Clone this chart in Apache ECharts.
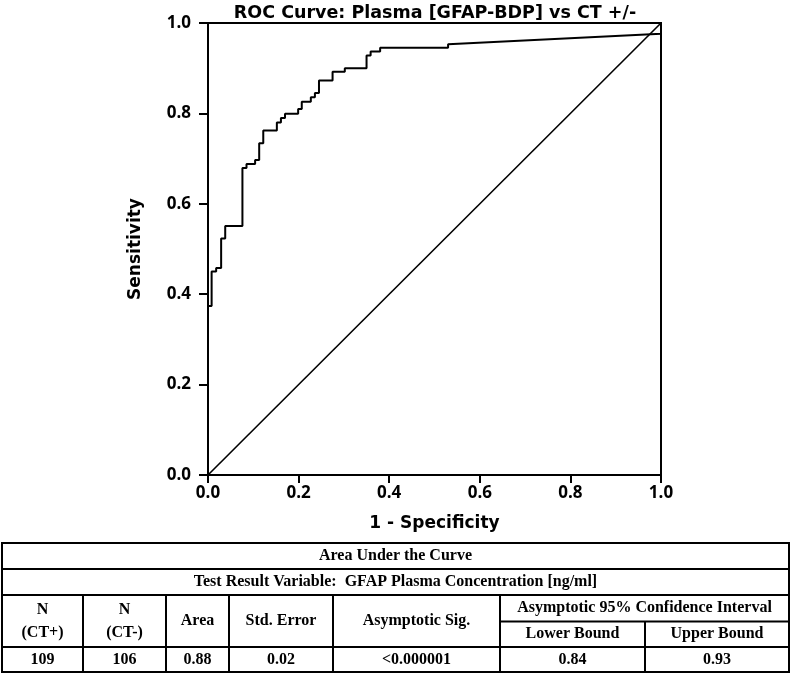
<!DOCTYPE html>
<html>
<head>
<meta charset="utf-8">
<script src="https://cdn.jsdelivr.net/npm/echarts@6/dist/echarts.min.js"></script>
<style>
html,body{margin:0;padding:0;background:#fff;}
#chart{width:792px;height:674px;}
</style>
</head>
<body>
<div id="chart"></div>
<script>
// ---- Data ----
var chartTitle = 'ROC Curve: Plasma [GFAP-BDP] vs CT +/-';
var xAxisTitle = '1 - Specificity';
var yAxisTitle = 'Sensitivity';
// ROC curve points: [1 - specificity, sensitivity]
var rocFpr = [0, 0, 0.008, 0.008, 0.018, 0.018, 0.029, 0.029, 0.038, 0.038, 0.076, 0.076, 0.085, 0.085, 0.104, 0.104, 0.113, 0.113, 0.122, 0.122, 0.152, 0.152, 0.161, 0.161, 0.170, 0.170, 0.199, 0.199, 0.207, 0.207, 0.227, 0.227, 0.236, 0.236, 0.245, 0.245, 0.275, 0.275, 0.302, 0.302, 0.350, 0.350, 0.359, 0.359, 0.380, 0.380, 0.530, 0.530, 1.0, 1.0];
var rocTpr = [0, 0.374, 0.374, 0.450, 0.450, 0.458, 0.458, 0.523, 0.523, 0.551, 0.551, 0.679, 0.679, 0.688, 0.688, 0.697, 0.697, 0.734, 0.734, 0.762, 0.762, 0.780, 0.780, 0.790, 0.790, 0.799, 0.799, 0.810, 0.810, 0.826, 0.826, 0.836, 0.836, 0.845, 0.845, 0.873, 0.873, 0.892, 0.892, 0.900, 0.900, 0.928, 0.928, 0.937, 0.937, 0.945, 0.945, 0.953, 0.976, 1.0];
var refX = [0, 1];
var refY = [0, 1];

// ---- Table contents ----
var tableTitle = 'Area Under the Curve';
var tableSubtitle = 'Test Result Variable:  GFAP Plasma Concentration [ng/ml]';
var tableHeaders = ['N\n(CT+)', 'N\n(CT-)', 'Area', 'Std. Error', 'Asymptotic Sig.'];
var ciHeader = 'Asymptotic 95% Confidence Interval';
var ciSubHeaders = ['Lower Bound', 'Upper Bound'];
var tableValues = ['109', '106', '0.88', '0.02', '<0.000001', '0.84', '0.93'];

// ---- Layout (not data) ----
var colX = [2, 83, 166, 229, 333, 500, 645, 789];
var rowY = [543, 569, 595, 621.5, 647, 672];
var tableFont = 'bold 16px "Liberation Serif", "DejaVu Serif", serif';
var sansFont = '"Open Sans", "Noto Sans", sans-serif';
var wideFont = '"DejaVu Sans", "Open Sans", sans-serif';

var rocData = rocFpr.map(function (x, i) { return [x, rocTpr[i]]; });
var refData = refX.map(function (x, i) { return [x, refY[i]]; });

var graphics = [];
function hline(x1, x2, y) {
  graphics.push({type: 'line', silent: true, shape: {x1: x1, y1: y, x2: x2, y2: y}, style: {stroke: '#000', lineWidth: 2}});
}
function vline(x, y1, y2) {
  graphics.push({type: 'line', silent: true, shape: {x1: x, y1: y1, x2: x, y2: y2}, style: {stroke: '#000', lineWidth: 2}});
}
function txt(s, x, y) {
  graphics.push({type: 'text', silent: true, style: {text: s, x: x, y: y, textAlign: 'center', textVerticalAlign: 'middle', font: tableFont, fill: '#000', lineHeight: 23}});
}
var L = colX[0], R = colX[colX.length - 1];
graphics.push({type: 'rect', silent: true, shape: {x: L, y: rowY[0], width: R - L, height: rowY[5] - rowY[0]}, style: {fill: 'none', stroke: '#000', lineWidth: 2}});
hline(L, R, rowY[1]);
hline(L, R, rowY[2]);
hline(colX[5], R, rowY[3]);
hline(L, R, rowY[4]);
for (var c = 1; c < colX.length - 1; c++) {
  vline(colX[c], c === 6 ? rowY[3] : rowY[2], rowY[5]);
}
txt(tableTitle, (L + R) / 2, (rowY[0] + rowY[1]) / 2);
txt(tableSubtitle, (L + R) / 2, (rowY[1] + rowY[2]) / 2);
for (var h = 0; h < tableHeaders.length; h++) {
  txt(tableHeaders[h], (colX[h] + colX[h + 1]) / 2, (rowY[2] + rowY[4]) / 2);
}
txt(ciHeader, (colX[5] + colX[7]) / 2, (rowY[2] + rowY[3]) / 2);
txt(ciSubHeaders[0], (colX[5] + colX[6]) / 2, (rowY[3] + rowY[4]) / 2);
txt(ciSubHeaders[1], (colX[6] + colX[7]) / 2, (rowY[3] + rowY[4]) / 2);
for (var v = 0; v < tableValues.length; v++) {
  txt(tableValues[v], (colX[v] + colX[v + 1]) / 2, (rowY[4] + rowY[5]) / 2);
}

var chart = echarts.init(document.getElementById('chart'), null, {renderer: 'canvas'});
var axisLabelStyle = {color: '#000', fontFamily: sansFont, fontWeight: 'bold', fontSize: 17};
var nameStyle = {color: '#000', fontFamily: wideFont, fontWeight: 'bold', fontSize: 17};
chart.setOption({
  animation: false,
  backgroundColor: '#fff',
  title: {
    text: chartTitle,
    left: 430, top: -1, textAlign: 'center',
    textStyle: {color: '#000', fontFamily: wideFont, fontWeight: 'bold', fontSize: 17.5}
  },
  grid: {left: 208, top: 23, right: 131, bottom: 199, show: true, borderColor: '#000', borderWidth: 2, backgroundColor: 'transparent'},
  xAxis: {
    type: 'value', min: 0, max: 1, interval: 0.2,
    name: xAxisTitle, nameLocation: 'middle', nameGap: 40,
    nameTextStyle: nameStyle,
    axisLine: {show: true, lineStyle: {color: '#000', width: 2}},
    axisTick: {show: true, length: 8, lineStyle: {color: '#000', width: 2}},
    axisLabel: Object.assign({margin: 10, formatter: function (v) { return v.toFixed(1); }}, axisLabelStyle),
    splitLine: {show: false}
  },
  yAxis: {
    type: 'value', min: 0, max: 1, interval: 0.2,
    name: yAxisTitle, nameLocation: 'middle', nameGap: 64, nameRotate: 90,
    nameTextStyle: nameStyle,
    axisLine: {show: true, lineStyle: {color: '#000', width: 2}},
    axisTick: {show: true, length: 9, lineStyle: {color: '#000', width: 2}},
    axisLabel: Object.assign({margin: 17, formatter: function (v) { return v.toFixed(1); }}, axisLabelStyle),
    splitLine: {show: false}
  },
  series: [
    {type: 'line', data: refData, showSymbol: false, clip: false, lineStyle: {color: '#000', width: 1.6}, silent: true},
    {type: 'line', data: rocData, showSymbol: false, clip: false, lineStyle: {color: '#000', width: 2}, silent: true}
  ],
  graphic: graphics
});
</script>
</body>
</html>
